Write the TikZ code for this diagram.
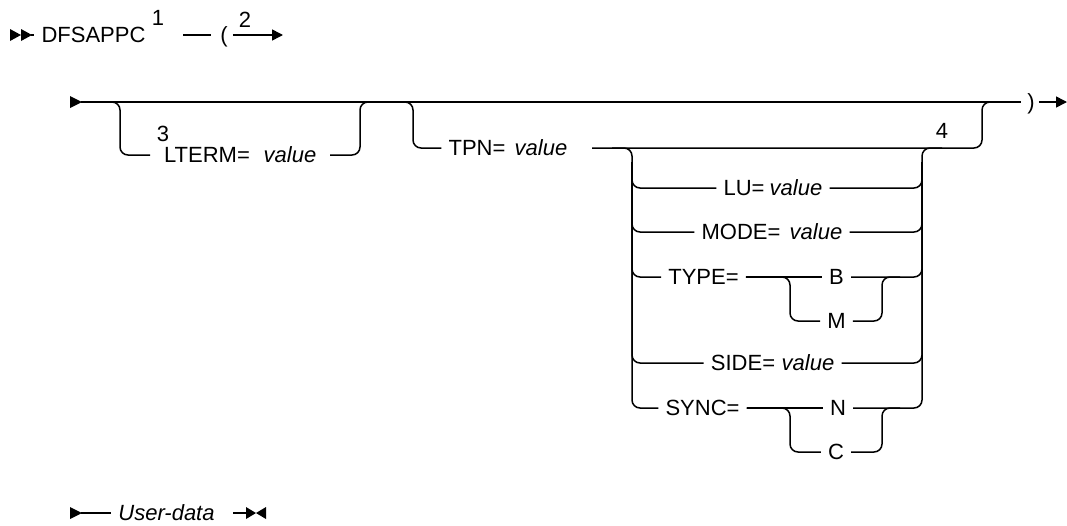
\documentclass[tikz,border=0pt]{standalone}
\usepackage{fontspec}
\setmainfont{Liberation Sans}
\usetikzlibrary{arrows.meta}
\begin{document}
\begin{tikzpicture}[x=1pt,y=-1pt,
  every node/.style={font=\fontsize{22}{26}\selectfont},
  lbl/.style={inner xsep=7pt, inner ysep=0pt, text height=15pt, text depth=0pt, anchor=center},
  sup/.style={inner sep=0pt, anchor=center},
  rail/.style={line width=1.5pt, rounded corners=8pt},
  arr/.style={line width=1.5pt, -{Triangle[length=11pt,width=11pt]}},
  tri/.style={fill=black}
]
\useasboundingbox (0,0) rectangle (1067,525);

% ---------- row 1 ----------
\fill[tri] (10,29) -- (21,35) -- (10,41) -- cycle;
\fill[tri] (21,29) -- (32,35) -- (21,41) -- cycle;
\coordinate (s1) at (31,35);
\node[lbl] (dfs) at (93.5,35) {DFSAPPC};
\draw[rail] (s1) -- (dfs.west);
\node[sup] (n1) at (158,18) {1};
\coordinate (d1a) at (183,35);
\coordinate (d1b) at (211,35);
\draw[rail] (d1a) -- (d1b);
\node[lbl,inner xsep=5pt] (lp) at (224,35) {(};
\node[sup] (n2) at (245,20) {2};
\coordinate (a1e) at (283,35);
\draw[arr] (lp.east) -- (a1e);

% ---------- row 2: main line ----------
\fill[tri] (70,96) -- (82,102) -- (70,108) -- cycle;
\coordinate (m0) at (81,102);
\coordinate (m1) at (1021,102);
\draw[rail] (m0) -- (m1);
\node[lbl,inner xsep=4pt] (rp) at (1031,102) {)};
\coordinate (a2e) at (1067,102);
\draw[arr] (rp.east) -- (a2e);

% LTERM branch
\coordinate (b1a) at (100,102);
\coordinate (b1c) at (120,102);
\coordinate (b1d) at (150,155);
\node[sup] (n3) at (163,134) {3};
\node[lbl] (lterm) at (207,155) {LTERM=};
\node[lbl] (ltermv) at (290,155) {\itshape value};
\draw[rail] (b1a) -- (b1c) |- (b1d);
\coordinate (b1e) at (330,155);
\coordinate (b1f) at (360,102);
\coordinate (b1g) at (380,102);
\draw[rail] (b1e) -| (b1f) -- (b1g);

% TPN branch
\coordinate (b2a) at (395,102);
\coordinate (b2c) at (413,102);
\node[lbl] (tpn) at (477,148) {TPN=};
\node[lbl] (tpnv) at (541,148) {\itshape value};
\draw[rail] (b2a) -- (b2c) |- (tpn.west);
\coordinate (b2e) at (592,148);
\coordinate (b2f) at (982,102);
\coordinate (b2g) at (1000,102);
\draw[rail] (b2e) -| (b2f) -- (b2g);
\node[sup] (n4) at (942,131) {4};

% inner group
\coordinate (gs) at (612,148);
\coordinate (g0) at (632,148);
\coordinate (gv) at (632,162);
\coordinate (h0) at (922,148);
\coordinate (he) at (942,148);
\coordinate (hv) at (922,162);

\node[lbl] (lu) at (744,188) {LU=};
\node[lbl] (luv) at (796,188) {\itshape value};
\draw[rail] (gs) -- (g0) |- (lu.west);
\draw[rail] (luv.east) -| (h0) -- (he);

\node[lbl] (mode) at (741,232) {MODE=};
\node[lbl] (modev) at (816,232) {\itshape value};
\draw[rail] (gv) |- (mode.west);
\draw[rail] (modev.east) -| (hv);

\node[lbl] (type) at (703.5,277) {TYPE=};
\node[lbl] (tb) at (836.5,277) {B};
\node[lbl] (tm) at (836.5,321) {M};
\coordinate (tmc) at (790,321);
\coordinate (tmd) at (882,277);
\coordinate (tme) at (900,277);
\draw[rail] (gv) |- (type.west);
\draw[rail] (type.east) -- (tb.west);
\draw[rail] (type.east) -| (tmc) -- (tm.west);
\draw[rail] (tm.east) -| (tmd) -- (tme);
\draw[rail] (tb.east) -| (hv);

\node[lbl] (side) at (743,363) {SIDE=};
\node[lbl] (sidev) at (808,363) {\itshape value};
\draw[rail] (gv) |- (side.west);
\draw[rail] (sidev.east) -| (hv);

\node[lbl] (sync) at (702.5,408) {SYNC=};
\node[lbl] (sn) at (838,408) {N};
\node[lbl] (sc) at (836,452) {C};
\coordinate (scc) at (790,452);
\coordinate (scd) at (882,408);
\coordinate (sce) at (900,408);
\draw[rail] (gv) |- (sync.west);
\draw[rail] (sync.east) -- (sn.west);
\draw[rail] (sync.east) -| (scc) -- (sc.west);
\draw[rail] (sc.east) -| (scd) -- (sce);
\draw[rail] (sn.east) -| (hv);

% ---------- row 3 ----------
\fill[tri] (70,507) -- (82,513) -- (70,519) -- cycle;
\coordinate (u0) at (81,513);
\node[lbl] (ud) at (166.5,513) {\itshape User-data};
\draw[rail] (u0) -- (ud.west);
\coordinate (u1) at (233,513);
\coordinate (u2) at (247,513);
\draw[rail] (u1) -- (u2);
\fill[tri] (246,507) -- (256,513) -- (246,519) -- cycle;
\fill[tri] (266,507) -- (256,513) -- (266,519) -- cycle;
\end{tikzpicture}
\end{document}
